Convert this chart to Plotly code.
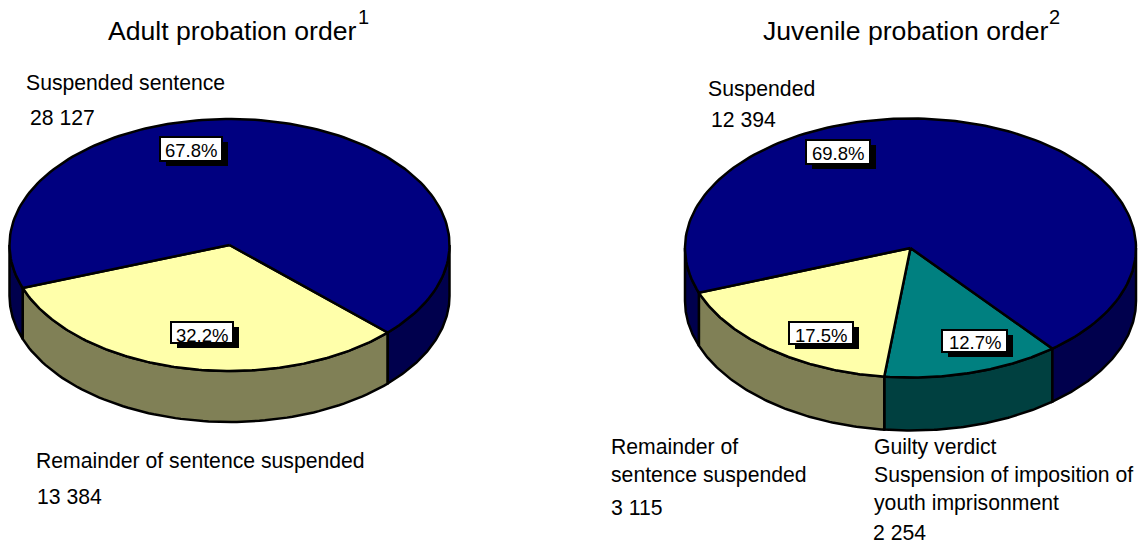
import numpy as np
import plotly.graph_objects as go

# values, clockwise from the first slice boundary
adult_labels = ['Remainder of sentence suspended', 'Suspended sentence']
adult_values = [13384, 28127]
adult_pcts = ['32.2%', '67.8%']

juvenile_labels = ['Guilty verdict', 'Remainder of sentence suspended', 'Suspended']
juvenile_values = [2254, 3115, 12394]
juvenile_pcts = ['12.7%', '17.5%', '69.8%']

FONT = 'Liberation Sans, Arial, sans-serif'
TOP_COLORS = {'Suspended sentence': '#000080', 'Suspended': '#000080',
              'Remainder of sentence suspended': '#FFFFAA', 'Guilty verdict': '#008080'}
SIDE_COLORS = {'Suspended sentence': '#00004D', 'Suspended': '#00004D',
               'Remainder of sentence suspended': '#808056', 'Guilty verdict': '#004040'}

fig = go.Figure()


def ellipse(cx, cy, rx, ry, deg):
    # angles are clockwise from 12 o'clock
    rad = np.radians(deg)
    return cx + rx * np.sin(rad), cy - ry * np.cos(rad)


def add_poly(x, y, color):
    fig.add_trace(go.Scatter(x=np.round(x, 2).tolist(), y=np.round(y, 2).tolist(), mode='lines', fill='toself',
                             fillcolor=color, line=dict(color='black', width=2.5),
                             hoverinfo='skip', showlegend=False))


def add_pie(labels, values, start, cx, cy, rx, ry, depth):
    edges = start + 360 * np.concatenate([[0], np.cumsum(values)]) / np.sum(values)

    # side walls first, only the front half of the disc shows
    for i, lab in enumerate(labels):
        for shift in (0, -360):
            a0 = max(edges[i] + shift, 90)
            a1 = min(edges[i + 1] + shift, 270)
            if a1 <= a0:
                continue
            ang = np.linspace(a0, a1, 80)
            x, y = ellipse(cx, cy, rx, ry, ang)
            add_poly(np.concatenate([x, x[::-1], x[:1]]),
                     np.concatenate([y, y[::-1] + depth, y[:1]]), SIDE_COLORS[lab])

    for i, lab in enumerate(labels):
        ang = np.linspace(edges[i], edges[i + 1], 160)
        x, y = ellipse(cx, cy, rx, ry, ang)
        add_poly(np.concatenate([[cx], x, [cx]]), np.concatenate([[cy], y, [cy]]), TOP_COLORS[lab])


add_pie(adult_labels, adult_values, 134, 229.5, 245, 220, 126, 51)
add_pie(juvenile_labels, juvenile_values, 141, 910.5, 248, 225.5, 129.5, 53)


def text(x, y, s, size=21.2, **kw):
    fig.add_annotation(x=x, y=y, text=s, showarrow=False, xanchor='left', yanchor='middle',
                       font=dict(family=FONT, size=size, color='black'), borderpad=0, **kw)


def pct_box(x0, y0, x1, y1, s, dy=0):
    fig.add_shape(type='rect', x0=x0 + 6, y0=y0 + 5, x1=x1 + 6, y1=y1 + 5,
                  fillcolor='black', line=dict(color='black', width=0))
    fig.add_shape(type='rect', x0=x0, y0=y0, x1=x1, y1=y1,
                  fillcolor='white', line=dict(color='black', width=2))
    fig.add_annotation(x=(x0 + x1) / 2, y=(y0 + y1) / 2 + dy, text=s, showarrow=False, borderpad=0,
                       font=dict(family=FONT, size=18.5, color='black'))


text(107, 31, 'Adult probation order', 26.6)
text(357, 17, '1', 20)
text(762, 31, 'Juvenile probation order', 26.6)
text(1048, 17, '2', 20)

text(24.5, 83, 'Suspended sentence')
text(28.5, 117, '28 127')
text(34.5, 461, 'Remainder of sentence suspended')
text(35.5, 496, '13 384')

text(706.5, 89, 'Suspended')
text(709.5, 119, '12 394')
text(609.5, 446, 'Remainder of')
text(609.5, 475, 'sentence suspended')
text(609.5, 507, '3 115')
text(872.5, 447, 'Guilty verdict')
text(872.5, 475, 'Suspension of imposition of')
text(872.5, 503, 'youth imprisonment')
# box kept short so it stays inside the page
text(871.5, 532, '2 254', height=18)

pct_box(160, 137, 222, 161, adult_pcts[1], 1)
pct_box(171, 322, 233, 343, adult_pcts[0], 2.5)
pct_box(806, 140, 870, 164, juvenile_pcts[2], 1)
pct_box(789, 322, 853, 344, juvenile_pcts[1], 2)
pct_box(942, 330, 1007, 352, juvenile_pcts[0], 1)

fig.update_xaxes(range=[0, 1139], visible=False, fixedrange=True)
fig.update_yaxes(range=[542, 0], visible=False, fixedrange=True)
fig.update_layout(width=1139, height=542, margin=dict(l=0, r=0, t=0, b=0),
                  paper_bgcolor='white', plot_bgcolor='white', showlegend=False)

# the page's default body margin would push the chart 8px off
fig.write_html('out.html', config={'displayModeBar': False},
               post_script="document.body.style.margin='0';")
